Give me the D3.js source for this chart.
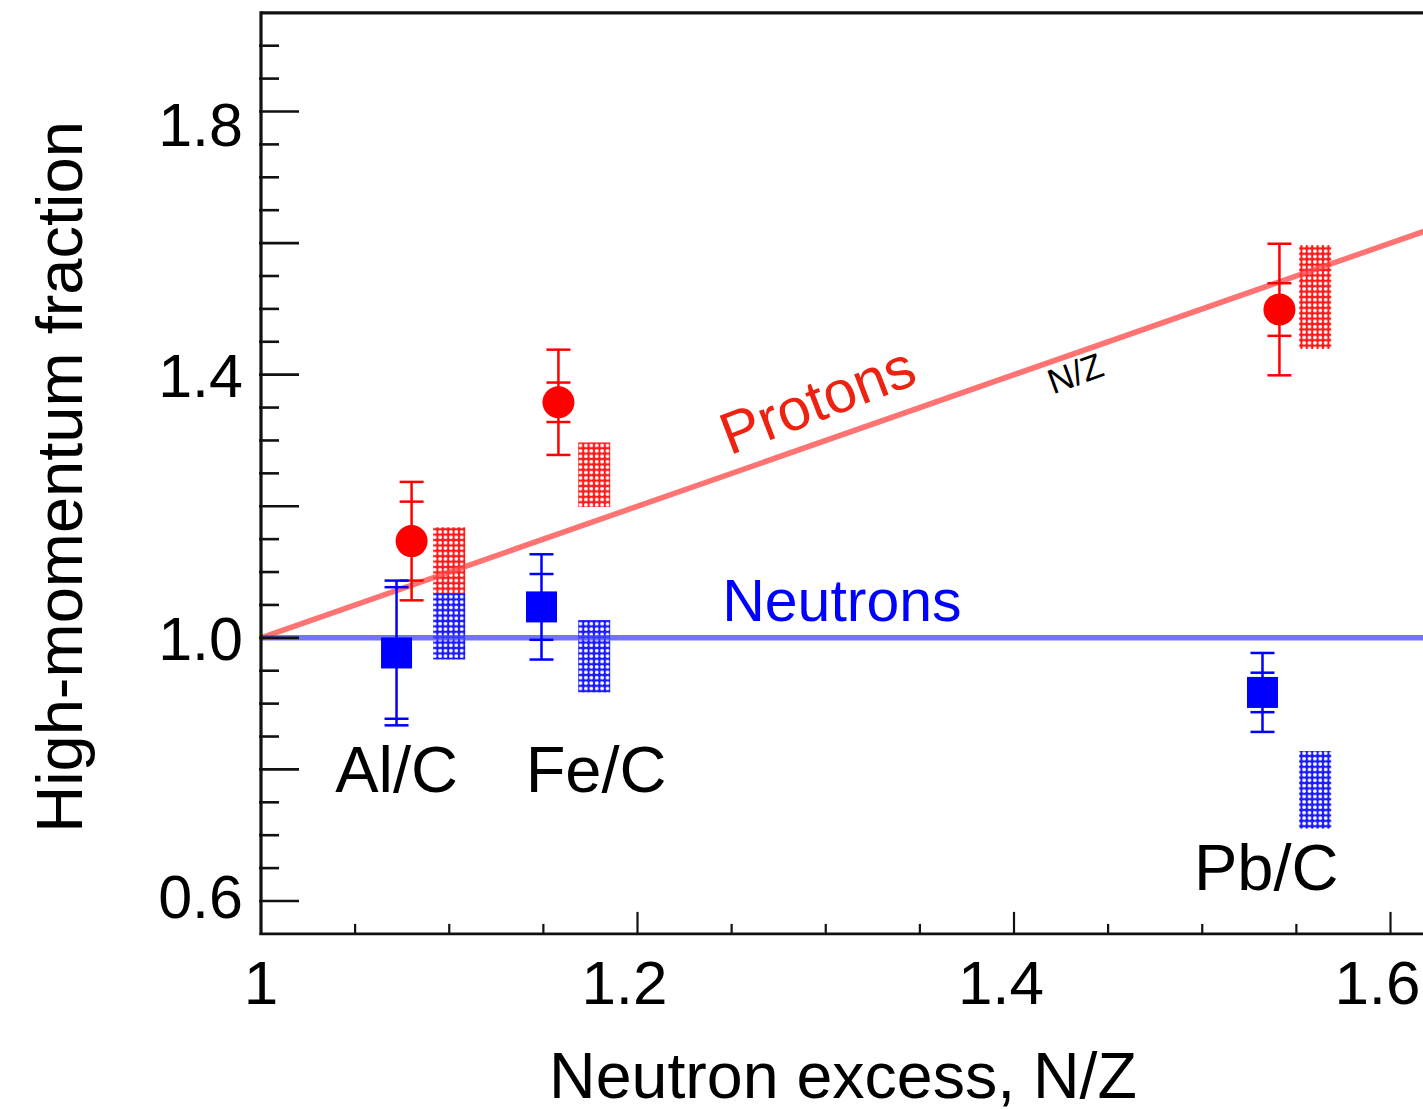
<!DOCTYPE html>
<html>
<head>
<meta charset="utf-8">
<script src="https://cdn.jsdelivr.net/npm/d3@7"></script>
<style>
  html, body { margin: 0; padding: 0; background: #fff; overflow: hidden; }
  text { font-family: "Liberation Sans", Arial, Helvetica, sans-serif; }
</style>
</head>
<body>
<svg id="chart" width="1423" height="1109"></svg>
<script>
// ---- data ----
const categories = ["Al/C", "Fe/C", "Pb/C"];
const protonX = [1.080, 1.158, 1.541];
const protonY = [1.147, 1.358, 1.499];
const protonStatErr = [0.06, 0.03, 0.04];
const protonTotErr = [0.09, 0.08, 0.10];
const neutronX = [1.072, 1.149, 1.532];
const neutronY = [0.977, 1.047, 0.917];
const neutronStatErr = [0.10, 0.05, 0.03];
const neutronTotErr = [0.11, 0.08, 0.06];
const sysBoxX = [1.100, 1.177, 1.560];
const protonSysLo = [1.068, 1.199, 1.439];
const protonSysHi = [1.168, 1.297, 1.597];
const neutronSysLo = [0.967, 0.917, 0.710];
const neutronSysHi = [1.068, 1.027, 0.828];
const categoryLabelX = [1.072, 1.178, 1.534];
const categoryLabelY = [0.766, 0.766, 0.616];
const xTickValues = [1, 1.2, 1.4, 1.6];
const xTickLabels = ["1", "1.2", "1.4", "1.6"];
const yTickValues = [0.6, 1.0, 1.4, 1.8];
const yTickLabels = ["0.6", "1.0", "1.4", "1.8"];
const xDomain = [1, 1.7];
const yDomain = [0.55, 1.95];
const protonLineX = [1, 1.7];      // N/Z line: y = N/Z
const neutronLineY = 1.0;

// ---- style tweaks (label nudges, px) ----
const yLabelNudge = { "1.8": 12, "0.6": -5 };

// ---- scales ----
const svg = d3.select("#chart");
const x = d3.scaleLinear().domain([1, 1.6]).range([261, 1390.5]);
const y = d3.scaleLinear().domain([0.6, 1.8]).range([901, 111.5]);

const RED = "#ff0000", BLUE = "#0000ff";

// ---- patterns ----
const defs = svg.append("defs");
function makePattern(id, color) {
  const p = defs.append("pattern").attr("id", id).attr("patternUnits", "userSpaceOnUse")
    .attr("width", 5.4).attr("height", 5.4);
  p.append("rect").attr("width", 5.4).attr("height", 5.4).attr("fill", color);
  p.append("circle").attr("cx", 2.7).attr("cy", 2.7).attr("r", 1.9).attr("fill", "#fff");
}
makePattern("hatchRed", RED);
makePattern("hatchBlue", BLUE);

// ---- systematic boxes ----
const boxW = 32;
const gBox = svg.append("g");
gBox.selectAll("rect.pbox").data(sysBoxX).join("rect").attr("class", "pbox")
  .attr("x", (d) => x(d) - boxW / 2).attr("width", boxW)
  .attr("y", (d, i) => y(protonSysHi[i]))
  .attr("height", (d, i) => y(protonSysLo[i]) - y(protonSysHi[i]))
  .attr("fill", "url(#hatchRed)").attr("opacity", 0.9);
gBox.selectAll("rect.nbox").data(sysBoxX).join("rect").attr("class", "nbox")
  .attr("x", (d) => x(d) - boxW / 2).attr("width", boxW)
  .attr("y", (d, i) => y(neutronSysHi[i]))
  .attr("height", (d, i) => y(neutronSysLo[i]) - y(neutronSysHi[i]))
  .attr("fill", "url(#hatchBlue)").attr("opacity", 0.9);

// ---- reference lines ----
svg.append("line").attr("x1", x(protonLineX[0])).attr("y1", y(protonLineX[0]))
  .attr("x2", x(protonLineX[1])).attr("y2", y(protonLineX[1]))
  .attr("stroke", "#ff4444").attr("stroke-opacity", 0.75).attr("stroke-width", 5.5);
svg.append("line").attr("x1", x(1)).attr("y1", y(neutronLineY))
  .attr("x2", x(xDomain[1])).attr("y2", y(neutronLineY))
  .attr("stroke", "#4444ff").attr("stroke-opacity", 0.75).attr("stroke-width", 5.5);

// ---- error bars ----
const capHW = 12;
function errorBars(xs, ys, stat, tot, color) {
  const g = svg.append("g").attr("stroke", color).attr("stroke-width", 2.5);
  xs.forEach((xv, i) => {
    const cx = x(xv);
    g.append("line").attr("x1", cx).attr("x2", cx)
      .attr("y1", y(ys[i] + tot[i])).attr("y2", y(ys[i] - tot[i]));
    [ys[i] + tot[i], ys[i] - tot[i], ys[i] + stat[i], ys[i] - stat[i]].forEach((v) => {
      g.append("line").attr("x1", cx - capHW).attr("x2", cx + capHW)
        .attr("y1", y(v)).attr("y2", y(v));
    });
  });
}
errorBars(protonX, protonY, protonStatErr, protonTotErr, RED);
errorBars(neutronX, neutronY, neutronStatErr, neutronTotErr, BLUE);

// ---- markers ----
svg.append("g").selectAll("circle").data(protonX).join("circle")
  .attr("cx", (d) => x(d)).attr("cy", (d, i) => y(protonY[i])).attr("r", 16).attr("fill", RED);
const sq = 31;
svg.append("g").selectAll("rect").data(neutronX).join("rect")
  .attr("x", (d) => x(d) - sq / 2).attr("y", (d, i) => y(neutronY[i]) - sq / 2)
  .attr("width", sq).attr("height", sq).attr("fill", BLUE);

// ---- frame & axes ----
const gAx = svg.append("g").attr("stroke", "#111");
const x0 = x(1), yTop = y(yDomain[1]), yBot = y(yDomain[0]);
gAx.append("line").attr("x1", x0).attr("x2", 1423).attr("y1", yTop).attr("y2", yTop).attr("stroke-width", 3.2);
gAx.append("line").attr("x1", x0).attr("x2", x0).attr("y1", yTop - 1.5).attr("y2", yBot + 1).attr("stroke-width", 3.2);
gAx.append("line").attr("x1", x0 - 1.5).attr("x2", 1423).attr("y1", yBot).attr("y2", yBot).attr("stroke-width", 2.6);

const isMajor = (v) => Math.abs(v * 5 - Math.round(v * 5)) < 1e-6;

// y ticks every 0.05, major every 0.2
const yTicks = d3.range(0, 28).map((k) => +(0.6 + k * 0.05).toFixed(2)).filter((v) => v < 1.95);
gAx.selectAll("line.yt").data(yTicks).join("line").attr("class", "yt")
  .attr("x1", x0 - 2).attr("x2", (d) => x0 + (isMajor(d) ? 38 : 18))
  .attr("y1", (d) => y(d)).attr("y2", (d) => y(d)).attr("stroke-width", 2.6);

// x ticks every 0.05, major every 0.2
const xTicks = d3.range(1, 14).map((k) => +(1 + k * 0.05).toFixed(2));
gAx.selectAll("line.xt").data(xTicks).join("line").attr("class", "xt")
  .attr("x1", (d) => x(d)).attr("x2", (d) => x(d))
  .attr("y1", yBot).attr("y2", (d) => yBot - (isMajor(d) ? 22 : 10))
  .attr("stroke-width", 2.2);

// tick labels
svg.append("g").selectAll("text").data(yTickValues).join("text")
  .attr("x", 243).attr("y", (d, i) => y(d) + 22 + (yLabelNudge[yTickLabels[i]] || 0))
  .attr("text-anchor", "end").attr("font-size", 61).attr("fill", "#000")
  .text((d, i) => yTickLabels[i]);
svg.append("g").selectAll("text").data(xTickValues).join("text")
  .attr("x", (d, i) => x(d) - (xTickLabels[i].length > 1 ? 13 : 0)).attr("y", 1004)
  .attr("text-anchor", "middle").attr("font-size", 62).attr("fill", "#000")
  .text((d, i) => xTickLabels[i]);

// axis titles
svg.append("text").attr("transform", "translate(82,477) rotate(-90)")
  .attr("text-anchor", "middle").attr("font-size", 65).attr("fill", "#000")
  .text("High-momentum fraction");
svg.append("text").attr("x", 843).attr("y", 1098)
  .attr("text-anchor", "middle").attr("font-size", 64.5).attr("fill", "#000")
  .text("Neutron excess, N/Z");

// category labels
svg.append("g").selectAll("text").data(categories).join("text")
  .attr("x", (d, i) => x(categoryLabelX[i])).attr("y", (d, i) => y(categoryLabelY[i]))
  .attr("text-anchor", "middle").attr("font-size", 65).attr("fill", "#000")
  .text((d) => d);

// line annotations
svg.append("text").attr("x", x(1.245)).attr("y", y(1.026))
  .attr("font-size", 59).attr("fill", BLUE).text("Neutrons");
svg.append("text")
  .attr("transform", `translate(${x(1.249)},${y(1.277)}) rotate(-21)`)
  .attr("font-size", 59).attr("fill", "#ee2211").text("Protons");
svg.append("text")
  .attr("transform", `translate(${x(1.4207)},${y(1.370)}) rotate(-20)`)
  .attr("font-size", 35).attr("fill", "#000").text("N/Z");
</script>
</body>
</html>
